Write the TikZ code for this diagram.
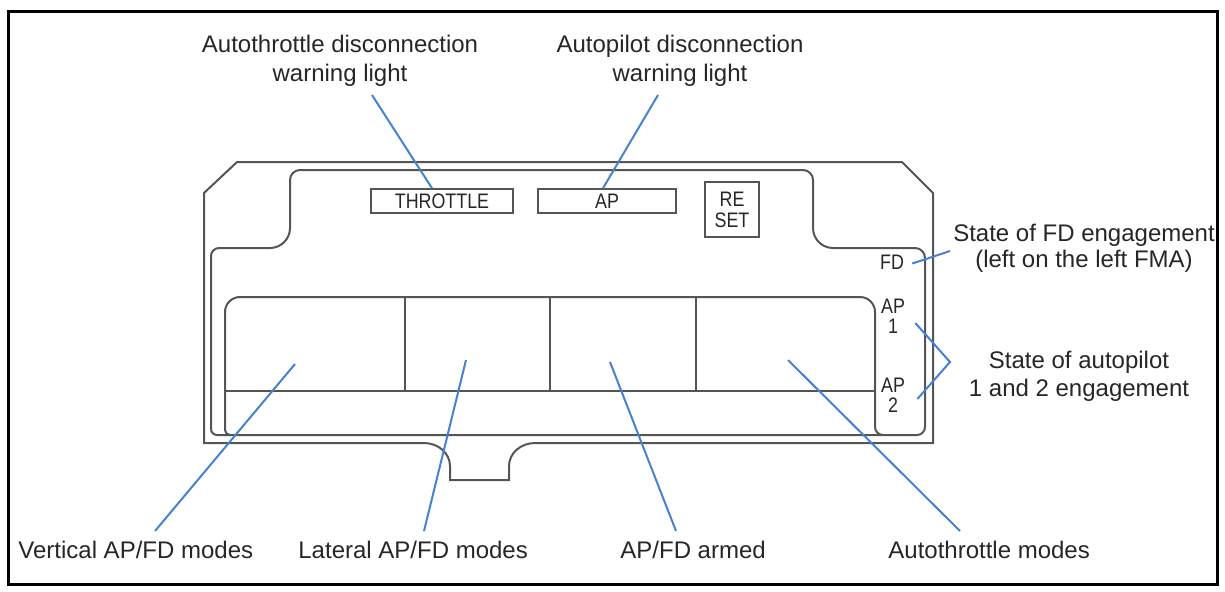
\documentclass[tikz,border=0pt]{standalone}
\usepackage{fontspec}
\setmainfont{Liberation Sans}
\newfontfamily\narrowf{Liberation Sans}[FakeStretch=0.85]
\definecolor{panelgray}{RGB}{85,85,85}
\definecolor{leadblue}{RGB}{70,130,205}
\begin{document}
\begin{tikzpicture}[x=0.5pt,y=-0.5pt,
  lab/.style={font=\fontsize{12}{14}\selectfont, align=center, inner sep=0pt, anchor=north, text=black!85},
  ptext/.style={font=\narrowf\fontsize{10.5}{10}\selectfont, inner sep=0pt, text=black!85, align=center},
  pbox/.style={draw=panelgray, line width=0.8pt, inner sep=0pt, font=\narrowf\fontsize{10.5}{10.5}\selectfont, text=black!85, align=center},
  panel/.style={draw=panelgray, line width=1pt},
  divider/.style={draw=panelgray, line width=0.8pt},
  lead/.style={draw=leadblue, line width=1pt}]
\useasboundingbox (0,0) rectangle (1225,591);
\draw[line width=1.5pt] (8.5,11) rectangle (1217.5,584.5);

% outer panel
\draw[panel] (237,162) -- (902,162) -- (933,193) -- (933,443) -- (535,443)
  .. controls (521,443) and (509,453) .. (509,466) -- (509,480) -- (450,480) -- (450,466)
  .. controls (450,453) and (438,443) .. (424,443) -- (204,443) -- (204,193) -- cycle;
% inner panel
\draw[panel] (211,256) arc[start angle=180,end angle=90,radius=4pt] -- (270,248)
  arc[start angle=270,end angle=360,radius=10pt] -- (290,180)
  arc[start angle=180,end angle=90,radius=5pt] -- (803,170)
  arc[start angle=90,end angle=0,radius=5pt] -- (813,228)
  arc[start angle=180,end angle=270,radius=10pt] -- (915,248)
  arc[start angle=90,end angle=0,radius=5pt] -- (925,427)
  arc[start angle=0,end angle=-90,radius=4pt] -- (217,435)
  arc[start angle=270,end angle=180,radius=3pt] -- cycle;
% display area
\draw[panel] (230,435) arc[start angle=270,end angle=180,radius=2.5pt] -- (225,312)
  arc[start angle=180,end angle=90,radius=7.5pt] -- (860,297)
  arc[start angle=90,end angle=0,radius=7.5pt] -- (875,427)
  arc[start angle=180,end angle=270,radius=4pt];
\draw[divider] (225,391) -- (875,391);
\draw[divider] (405,297) -- (405,391);
\draw[divider] (550,297) -- (550,391);
\draw[divider] (696,297) -- (696,391);

% panel items
\node[pbox, minimum width=71pt, minimum height=12pt] (thr) at (442,201) {THROTTLE};
\node[pbox, minimum width=69pt, minimum height=12pt] (apw) at (607,201) {AP};
\node[pbox, minimum width=27pt, minimum height=27.5pt, font=\narrowf\fontsize{10.5}{10.5}\selectfont] (rst) at (732,209.5) {RE\\SET};
\node[ptext] (fd) at (892,262.5) {FD};
\node[ptext] (ap1) at (893,316) {AP\\1};
\node[ptext] (ap2) at (893,395) {AP\\2};

% labels
\node[lab, font=\fontsize{12}{14.5}\selectfont] (atl) at (340,35) {Autothrottle disconnection\\warning light};
\node[lab, font=\fontsize{12}{14.5}\selectfont] (apl) at (680,35) {Autopilot disconnection\\warning light};
\node[lab, font=\fontsize{12}{13}\selectfont] (fdl) at (1084,223.5) {State of FD engagement\\(left on the left FMA)};
\node[lab] (apsl) at (1079,350.5) {State of autopilot\\1 and 2 engagement};
\node[lab, anchor=base west] (vl) at (18,558) {Vertical AP/FD modes};
\node[lab, anchor=base west] (ll) at (298,558) {Lateral AP/FD modes};
\node[lab, anchor=base west] (al) at (620,558) {AP/FD armed};
\node[lab, anchor=base west] (tl) at (888,558) {Autothrottle modes};

% connector ends
\coordinate (atlE) at (372,95);
\coordinate (aplE) at (658,95);
\coordinate (fdE) at (950,251);
\coordinate (brk) at (950,362);
\coordinate (vC) at (295,364);
\coordinate (lC) at (466,360);
\coordinate (aC) at (610,362);
\coordinate (tC) at (788,360);
\coordinate (vE) at (155,531);
\coordinate (lE) at (424,531);
\coordinate (aE) at (676,531);
\coordinate (tE) at (960,531);

\draw[lead] (atlE) -- ([xshift=-5pt]thr.north);
\draw[lead] (aplE) -- ([xshift=-2pt]apw.north);
\draw[lead] ([xshift=4pt,yshift=-0.5pt]fd.east) -- (fdE);
\draw[lead] ([xshift=5pt,yshift=-3.5pt]ap1.east) -- (brk) -- ([xshift=6pt,yshift=-2pt]ap2.east);
\draw[lead] (vC) -- (vE);
\draw[lead] (lC) -- (lE);
\draw[lead] (aC) -- (aE);
\draw[lead] (tC) -- (tE);
\end{tikzpicture}
\end{document}
